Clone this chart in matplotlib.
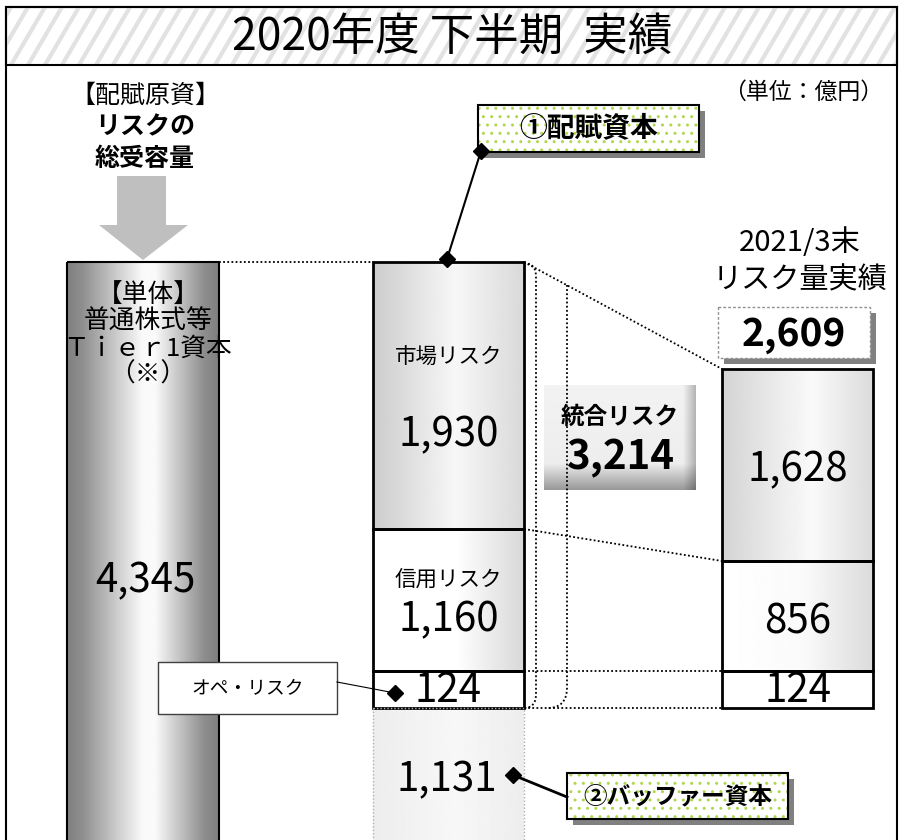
import numpy as np
import matplotlib.pyplot as plt
from matplotlib.patches import Rectangle, Polygon, PathPatch
from matplotlib.path import Path

plt.rcParams['font.family'] = ['Noto Sans CJK JP', 'DejaVu Sans']

# chart content
title = '2020年度 下半期  実績'
unit = '（単位：億円）'
source_head = ['【配賦原資】', 'リスクの', '総受容量']
tier1_label = ['【単体】', '普通株式等', 'Ｔｉｅｒ1資本', '（※）']
tier1_value = 4345
risk_names = ['市場リスク', '信用リスク', 'オペ・リスク']
risk_2020h2 = [1930, 1160, 124]
risk_2021_03 = [1628, 856, 124]
buffer_capital = 1131
integrated_risk = 3214
total_2021_03 = 2609
right_head = ['2021/3末', 'リスク量実績']
callouts = ['①配賦資本', '②バッファー資本']

# layout (pixels, figure is drawn 1:1)
W, H = 902, 840
mid_x, right_x, left_x = 448.5, 797.5, 143
col_w = 151
mid_edges = [262, 529, 671, 708]
right_edges = [369, 561, 671, 708]

fig = plt.figure(figsize=(W / 100, H / 100), dpi=100)
ax = fig.add_axes([0, 0, 1, 1])


def shade(patch, stops, vals, vertical=False):
    x0, y0 = patch.get_x(), patch.get_y()
    w, h = patch.get_width(), patch.get_height()
    g = np.interp(np.linspace(0, 1, 256), stops, vals)
    img = g[:, None] if vertical else g[None, :]
    im = ax.imshow(img, extent=[x0, x0 + w, y0 + h, y0], cmap='gray', vmin=0, vmax=1,
                   aspect='auto', interpolation='bilinear', zorder=patch.get_zorder() - 0.5)
    im.set_clip_path(patch)


def fmt(v):
    return f'{v:,}'


def num(x, y, v, **kw):
    # numbers sit a little low in the original boxes
    ax.text(x, y + 3, fmt(v), fontsize=kw.pop('fontsize', 29), ha='center', va='center',
            zorder=5, **kw)


# frame and title band
ax.add_patch(Rectangle((6, 7), 891, 900, fc='white', ec='black', lw=1.5, zorder=0))
band = Rectangle((6, 7), 891, 58, fc='none', ec='black', lw=1.5, zorder=3)
ax.add_patch(band)
for x in np.arange(-40, 920, 17):
    ln, = ax.plot([x, x + 34], [65, 7], color='#e2e2e2', lw=3, zorder=1, solid_capstyle='butt')
    ln.set_clip_path(band)
ax.text(452, 37, title, fontsize=32, ha='center', va='center', zorder=4)
ax.text(803, 92, unit, fontsize=16.5, ha='center', va='center')

# left: source of capital
for txt, y, w in zip(source_head, [96, 127, 159], ['normal', 'bold', 'bold']):
    ax.text(left_x + 2, y, txt, fontsize=18, fontweight=w, ha='center', va='center')
ax.add_patch(Polygon([(117, 176), (166, 176), (166, 225), (188, 225), (143, 260),
                      (99, 225), (117, 225)], closed=True, fc='#bfbfbf', ec='none'))

lbar = ax.bar(left_x, 600, bottom=262, width=152, fc='none', ec='black', lw=1.5, zorder=3)[0]
shade(lbar, [0, 0.1, 0.5, 0.58, 0.9, 1], [0.5, 0.56, 0.98, 0.98, 0.56, 0.5])
for txt, y in zip(tier1_label, [295, 322, 349, 375]):
    ax.text(left_x + 5, y, txt, fontsize=18.5, ha='center', va='center', zorder=5)
num(left_x + 2, 578, tier1_value)

# middle column
mid_bars = ax.bar([mid_x] * 3, np.diff(mid_edges), bottom=mid_edges[:-1], width=col_w,
                  fc='none', ec='black', lw=2, zorder=3)
shade(mid_bars[0], [0, 0.55, 1], [0.8, 0.97, 0.85])
shade(mid_bars[1], [0, 0.55, 1], [1.0, 1.0, 0.85])
shade(mid_bars[2], [0, 1], [1.0, 1.0])
ax.text(mid_x, 358, risk_names[0], fontsize=15.5, ha='center', va='center', zorder=5)
num(mid_x, 432, risk_2020h2[0])
ax.text(mid_x, 580, risk_names[1], fontsize=15.5, ha='center', va='center', zorder=5)
num(mid_x, 617, risk_2020h2[1])
num(mid_x, 688, risk_2020h2[2])

buf = ax.bar(mid_x, 150, bottom=mid_edges[-1], width=col_w, fc='none', ec='#b0b0b0',
             lw=1, ls=(0, (1, 1.5)), zorder=3)[0]
shade(buf, [0, 0.55, 1], [0.93, 0.97, 0.93])
num(mid_x - 2, 777, buffer_capital)

# right column
right_bars = ax.bar([right_x] * 3, np.diff(right_edges), bottom=right_edges[:-1], width=col_w,
                    fc='none', ec='black', lw=2, zorder=3)
shade(right_bars[0], [0, 0.6, 1], [0.83, 0.98, 0.86])
shade(right_bars[1], [0, 0.55, 1], [1.0, 0.98, 0.86])
shade(right_bars[2], [0, 1], [1.0, 1.0])
num(right_x, 467, risk_2021_03[0])
num(right_x, 619, risk_2021_03[1])
num(right_x, 688, risk_2021_03[2])
ax.text(800, 243, right_head[0], fontsize=21, ha='center', va='center')
ax.text(800, 280, right_head[1], fontsize=21, ha='center', va='center')
ax.add_patch(Rectangle((724, 313), 152, 51, fc='#808080', ec='none', zorder=3))
ax.add_patch(Rectangle((718, 307), 152, 51, fc='white', ec='#909090', lw=1,
                       ls=(0, (2, 1.5)), zorder=4))
num(794, 331, total_2021_03, fontsize=28, fontweight='bold')

# dotted guide lines
dot = dict(color='black', lw=1.3, ls=(0, (1, 1.3)), zorder=2)
ax.plot([219, 373], [262, 262], **dot)
ax.plot([524, 722], [262, 369], **dot)
ax.plot([524, 722], [529, 561], **dot)
ax.plot([524, 722], [671, 671], **dot)
ax.plot([524, 722], [708, 708], **dot)
br1 = Path([(524, 263), (536, 263), (536, 277), (536, 694), (536, 708), (524, 708)],
           [Path.MOVETO, Path.CURVE3, Path.CURVE3, Path.LINETO, Path.CURVE3, Path.CURVE3])
br2 = Path([(567, 285), (567, 688), (567, 708), (547, 708)],
           [Path.MOVETO, Path.LINETO, Path.CURVE3, Path.CURVE3])
for p in (br1, br2):
    ax.add_patch(PathPatch(p, fc='none', ec='black', lw=1.3, ls=(0, (1, 1.3)), zorder=6))

# integrated risk box
yy = np.interp(np.linspace(0, 1, 120), [0, 0.75, 1], [0.95, 0.93, 0.6])[:, None]
xx = np.interp(np.linspace(0, 1, 120), [0, 0.92, 1], [1, 1, 0.75])[None, :]
ax.imshow(yy * xx, extent=[544, 696, 490, 385], cmap='gray', vmin=0, vmax=1,
          aspect='auto', interpolation='bilinear', zorder=4)
ax.text(620, 417, '統合リスク', fontsize=17, fontweight='bold', ha='center', va='center', zorder=5)
num(620, 455, integrated_risk, fontweight='bold')


# callout boxes
def callout(x, y, w, h, txt, size):
    ax.add_patch(Rectangle((x + 6, y + 6), w, h, fc='#808080', ec='none', zorder=6))
    ax.add_patch(Rectangle((x, y), w, h, fc='white', ec='#b0d850', lw=0, hatch='..', zorder=7))
    ax.add_patch(Rectangle((x, y), w, h, fc='none', ec='black', lw=1.5, zorder=8))
    ax.text(x + w / 2, y + h / 2, txt, fontsize=size, fontweight='bold', ha='center',
            va='center', zorder=9)


callout(478, 105, 221, 47, callouts[0], 20)
callout(567, 773, 221, 46, callouts[1], 17)

ax.plot([481, 447], [151, 259], color='black', lw=1.5, zorder=9)
ax.plot([481, 447], [151, 259], 'D', color='black', ms=8, zorder=9)
ax.plot([513, 567], [775, 797], color='black', lw=2, zorder=9)
ax.plot([513], [775], 'D', color='black', ms=8, zorder=9)

# operational risk label
ax.add_patch(Rectangle((158, 662), 179, 52, fc='white', ec='#404040', lw=1, zorder=6))
ax.text(247.5, 688, risk_names[2], fontsize=13.5, ha='center', va='center', zorder=7)
ax.plot([337, 395], [682, 693], color='black', lw=0.8, zorder=6)
ax.plot([395], [693], 'D', color='black', ms=8, zorder=7)

ax.set_xlim(0, W)
ax.set_ylim(H, 0)
ax.axis('off')
fig.savefig('out.png', dpi=100)
